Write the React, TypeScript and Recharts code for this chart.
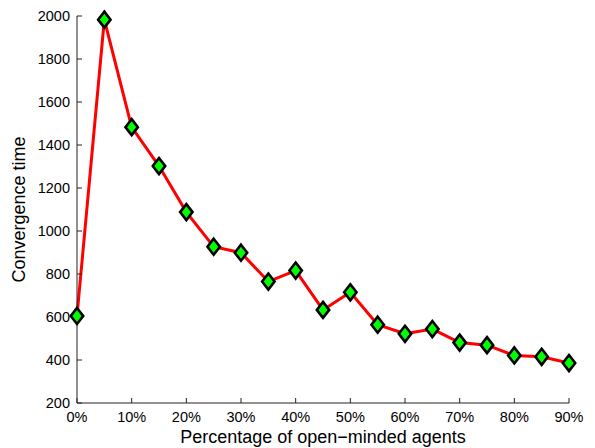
import React from "react";
import { LineChart, Line, XAxis, YAxis } from "recharts";

const percentages = [0, 5, 10, 15, 20, 25, 30, 35, 40, 45, 50, 55, 60, 65, 70, 75, 80, 85, 90];
const convergenceTimes = [605, 1983, 1483, 1302, 1088, 927, 899, 765, 816, 633, 715, 564, 522, 544, 481, 469, 421, 415, 386];
const xTicks = [0, 10, 20, 30, 40, 50, 60, 70, 80, 90];
const yTicks = [200, 400, 600, 800, 1000, 1200, 1400, 1600, 1800, 2000];

const data = percentages.map((p, i) => ({ pct: p, time: convergenceTimes[i] }));

const font = "'Liberation Sans', Arial, Helvetica, sans-serif";

// MATLAB-style diamond marker
const Diamond = (props: any) => {
  const { cx, cy } = props;
  if (cx == null || cy == null) return null;
  const w = 6.2;
  const h = 8;
  return (
    <polygon
      points={`${cx},${cy - h} ${cx + w},${cy} ${cx},${cy + h} ${cx - w},${cy}`}
      fill="#00ff00"
      stroke="#000"
      strokeWidth={2.6}
      strokeLinejoin="miter"
    />
  );
};

export default function App() {
  return (
    <div style={{ position: "absolute", left: 0, top: 0, background: "#fff" }}>
      <LineChart
        width={595}
        height={448}
        data={data}
        margin={{ top: 16, right: 26, bottom: 0, left: 0 }}
        style={{ fontFamily: font }}
      >
        <XAxis
          dataKey="pct"
          type="number"
          domain={[0, 90]}
          ticks={xTicks}
          tickFormatter={(v) => `${v}%`}
          height={45}
          tickSize={-5}
          tickMargin={14}
          stroke="#222"
          tick={{ fill: "#000", fontSize: 14.5 }}
          label={{
            value: "Percentage of open\u2212minded agents",
            position: "insideBottom",
            offset: 5,
            style: { fill: "#000", fontSize: 18 },
          }}
        />
        <YAxis
          domain={[200, 2000]}
          ticks={yTicks}
          width={77}
          tickSize={-5}
          tickMargin={12}
          stroke="#222"
          tick={{ fill: "#000", fontSize: 14.5 }}
          label={{
            value: "Convergence time",
            angle: -90,
            position: "insideLeft",
            offset: 19,
            style: { fill: "#000", fontSize: 18, textAnchor: "middle" },
          }}
        />
        <Line
          dataKey="time"
          stroke="#ff0000"
          strokeWidth={3}
          dot={<Diamond />}
          activeDot={false}
          isAnimationActive={false}
        />
      </LineChart>
    </div>
  );
}
